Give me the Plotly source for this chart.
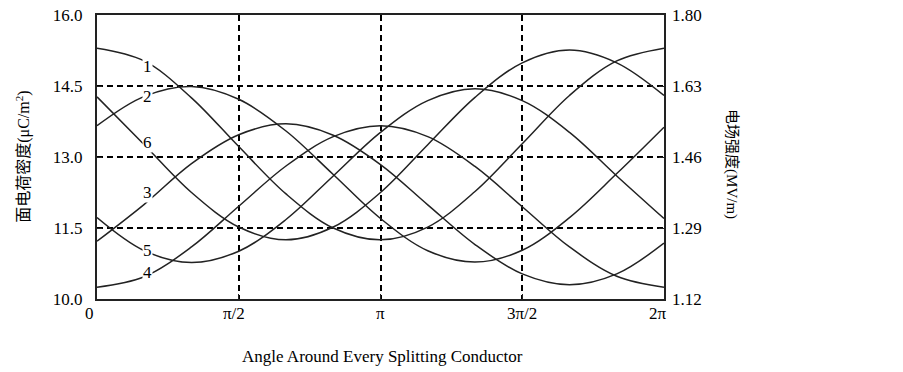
import numpy as np
import plotly.graph_objects as go

# Angles (multiples of pi/6) around the sub-conductor
angle_sixths = [0, 1, 2, 3, 4, 5, 6, 7, 8, 9, 10, 11, 12]

# Surface charge density (uC/m^2)
curve1 = [15.30, 15.03, 14.25, 13.22, 12.22, 11.50, 11.25, 11.52, 12.27, 13.28, 14.30, 15.03, 15.30]
curve2 = [13.66, 14.28, 14.49, 14.22, 13.55, 12.63, 11.70, 11.02, 10.78, 11.03, 11.72, 12.65, 13.63]
curve3 = [11.22, 12.00, 12.86, 13.47, 13.70, 13.46, 12.84, 11.99, 11.15, 10.53, 10.30, 10.53, 11.18]
curve4 = [10.25, 10.47, 11.10, 11.96, 12.81, 13.43, 13.66, 13.43, 12.80, 11.95, 11.10, 10.48, 10.25]
curve5 = [11.72, 11.02, 10.77, 11.01, 11.68, 12.60, 13.52, 14.19, 14.44, 14.19, 13.52, 12.60, 11.70]
curve6 = [14.27, 13.26, 12.25, 11.52, 11.25, 11.52, 12.25, 13.26, 14.26, 14.99, 15.26, 14.99, 14.30]

series = [("1", curve1), ("2", curve2), ("3", curve3),
          ("4", curve4), ("5", curve5), ("6", curve6)]

# Curve labels (name, angle in rad, value)
labels = [("1", 0.56, 14.92), ("2", 0.56, 14.27), ("6", 0.56, 13.30),
          ("3", 0.56, 12.24), ("5", 0.56, 11.03), ("4", 0.56, 10.57)]

x_tickvals = [0, np.pi / 2, np.pi, 3 * np.pi / 2, 2 * np.pi]
x_ticktext = ["0", "π/2", "π", "3π/2", "2π"]
x_label_shift = [-8, -5, 0, 0, -6]
y_left_ticks = [10.0, 11.5, 13.0, 14.5, 16.0]
y_left_text = ["10.0", "11.5", "13.0", "14.5", "16.0"]
y_right_ticks = [1.12, 1.29, 1.46, 1.63, 1.80]
y_right_text = ["1.12", "1.29", "1.46", "1.63", "1.80"]

x = [k * np.pi / 6 for k in angle_sixths]

FONT = "Liberation Serif, Times New Roman, Noto Sans CJK SC, serif"

fig = go.Figure()
for name, vals in series:
    fig.add_trace(go.Scatter(x=x, y=vals, mode="lines", name=name,
                             line=dict(color="#222222", width=1.5, shape="spline", smoothing=1.0),
                             showlegend=False, hoverinfo="skip"))

# invisible trace for the right axis
fig.add_trace(go.Scatter(x=[0, 2 * np.pi], y=[1.12, 1.80], yaxis="y2", mode="lines",
                         line=dict(color="rgba(0,0,0,0)"), showlegend=False, hoverinfo="skip"))

for txt, xa, ya in labels:
    fig.add_annotation(x=xa, y=ya, text=txt, showarrow=False, xref="x", yref="y",
                       font=dict(family=FONT, size=17, color="black"),
                       bgcolor="white", borderpad=0)

# x tick labels
for tv, tt, sh in zip(x_tickvals, x_ticktext, x_label_shift):
    fig.add_annotation(x=tv, y=0, xref="x", yref="paper", text=tt, showarrow=False,
                       xanchor="center", yanchor="top", xshift=sh, yshift=-3,
                       font=dict(family=FONT, size=17, color="black"))

fig.add_annotation(text="Angle Around Every Splitting Conductor", xref="x", yref="paper",
                   x=np.pi, y=0, xshift=2, yshift=-46, showarrow=False,
                   xanchor="center", yanchor="top",
                   font=dict(family=FONT, size=17, color="black"))

fig.add_annotation(text="面电荷密度(μC/m<sup>2</sup>)", xref="paper", yref="paper",
                   x=-0.131, y=0.5, textangle=-90, showarrow=False,
                   xanchor="center", yanchor="middle",
                   font=dict(family=FONT, size=16, color="black"))
fig.add_annotation(text="电场强度(MV/m)", xref="paper", yref="paper",
                   x=1.12, y=0.475, textangle=90, showarrow=False,
                   xanchor="center", yanchor="middle",
                   font=dict(family=FONT, size=15, color="black"))

GRID_DASH = "6px,4px"

fig.update_layout(
    width=903, height=372,
    margin=dict(l=96.5, r=239, t=15, b=73, autoexpand=False),
    paper_bgcolor="white", plot_bgcolor="white",
    font=dict(family=FONT, size=17, color="black"),
    xaxis=dict(range=[0, 2 * np.pi], tickvals=x_tickvals, showticklabels=False,
               showgrid=True, gridcolor="black", gridwidth=2, griddash=GRID_DASH,
               showline=True, linecolor="#222222", linewidth=2, mirror=True,
               ticks="inside", ticklen=5, tickcolor="#222222", zeroline=False,
               automargin=False),
    yaxis=dict(range=[10, 16], tickvals=y_left_ticks, ticktext=y_left_text,
               showgrid=True, gridcolor="black", gridwidth=2, griddash=GRID_DASH,
               showline=True, linecolor="#222222", linewidth=2, mirror=True,
               ticks="inside", ticklen=5, tickcolor="#222222", zeroline=False,
               automargin=False, ticklabelstandoff=9),
    yaxis2=dict(range=[1.12, 1.80], tickvals=y_right_ticks, ticktext=y_right_text,
                overlaying="y", side="right", showgrid=False, zeroline=False,
                ticks="inside", ticklen=5, tickcolor="#222222",
                automargin=False, showline=False, ticklabelstandoff=7),
)

fig.write_html("out.html", config={"displayModeBar": False},
               post_script="document.body.style.margin='0px';")
